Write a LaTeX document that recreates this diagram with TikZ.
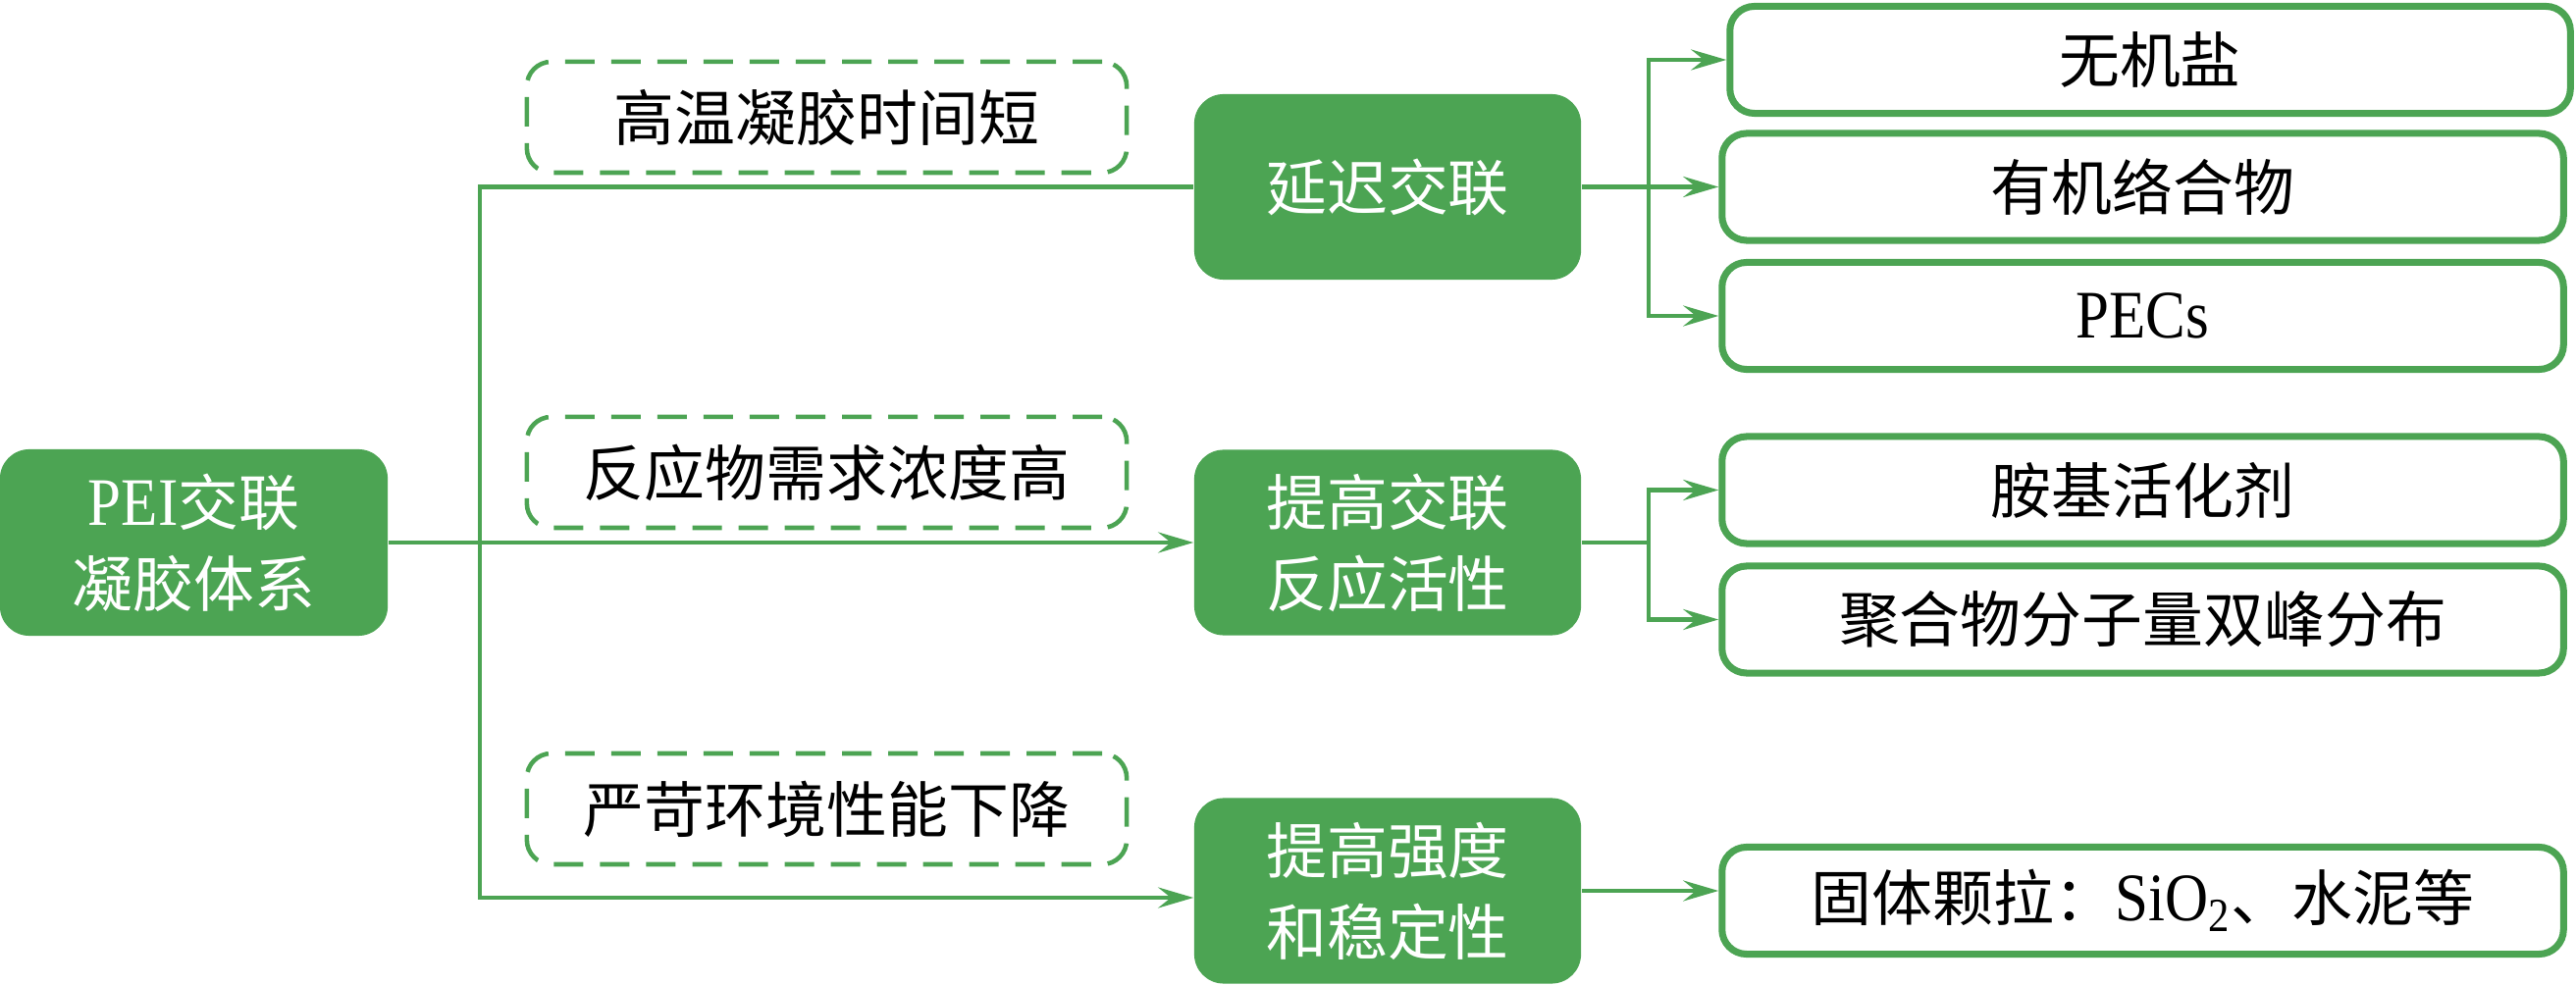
\documentclass[tikz,border=0pt]{standalone}
\usepackage{fontspec}
\setmainfont[Scale=1.12,FakeStretch=0.88]{Liberation Serif}
\newfontfamily\cjk{Noto Sans CJK SC}
\usetikzlibrary{arrows.meta}
\definecolor{gr}{RGB}{76,164,83}
\begin{document}
\begin{tikzpicture}[x=0.01cm,y=-0.01cm,
 every node/.style={font=\fontsize{17.6pt}{23.6pt}\selectfont, inner sep=0pt, align=center},
 filledbox/.style={fill=gr, text=white, rounded corners=0.3cm, minimum width=3.94cm, minimum height=1.89cm},
 dashbox/.style={draw=gr, line width=1.3pt, dash pattern=on 0.30cm off 0.17cm, rounded corners=0.25cm, minimum width=6.11cm, minimum height=1.13cm},
 leafbox/.style={draw=gr, line width=2.0pt, rounded corners=0.25cm, minimum width=8.57cm, minimum height=1.09cm},
 conn/.style={draw=gr, line width=1.35pt},
 arr/.style={conn, -{Stealth[length=0.36cm,width=0.21cm,inset=0.13cm]}}]
\useasboundingbox (0,0) rectangle (2625,1004);

% root
\node[filledbox, minimum width=3.95cm, minimum height=1.90cm] (root) at (197.5,553) {PEI{\cjk 交联}\\{\cjk 凝胶体系}};

% middle column
\node[filledbox] (m1) at (1414,190.5) {\cjk 延迟交联};
\node[filledbox] (m2) at (1414,553) {{\cjk 提高交联}\\{\cjk 反应活性}};
\node[filledbox] (m3) at (1414,908) {{\cjk 提高强度}\\{\cjk 和稳定性}};

% dashed problem boxes
\node[dashbox] (d1) at (842.5,119.5) {\cjk 高温凝胶时间短};
\node[dashbox] (d2) at (842.5,481.5) {\cjk 反应物需求浓度高};
\node[dashbox] (d3) at (842.5,824.5) {\cjk 严苛环境性能下降};

% right leaves
\node[leafbox, minimum width=8.56cm] (r1) at (2191,61) {\cjk 无机盐};
\node[leafbox] (r2) at (2183.5,190.5) {\cjk 有机络合物};
\node[leafbox] (r3) at (2183.5,322) {PECs};
\node[leafbox] (r4) at (2183.5,499.5) {\cjk 胺基活化剂};
\node[leafbox] (r5) at (2183.5,631.5) {\cjk 聚合物分子量双峰分布};
\node[leafbox] (r6) at (2183.5,918) {{\cjk 固体颗拉：}SiO\textsubscript{2}{\cjk 、水泥等}};

% helper coordinates
\coordinate (t1) at (489,190.5);
\coordinate (t3) at (489,915);
\coordinate (b1) at (1680,190.5);
\coordinate (b2) at (1680,553);

% trunk
\draw[arr] (m1.west) -- (t1) -- (t3) -- (t3 -| m3.west);
\draw[arr] (root.east) -- (m2.west);

% branch 1
\draw[arr] (m1.east) -- (r2.west);
\draw[arr] (b1) |- (r1.west);
\draw[arr] (b1) |- (r3.west);

% branch 2
\draw[arr] (m2.east) -- (b2) |- (r4.west);
\draw[arr] (b2) |- (r5.west);

% branch 3
\draw[arr] (m3.east) -- (m3.east -| r6.west);
\end{tikzpicture}
\end{document}
